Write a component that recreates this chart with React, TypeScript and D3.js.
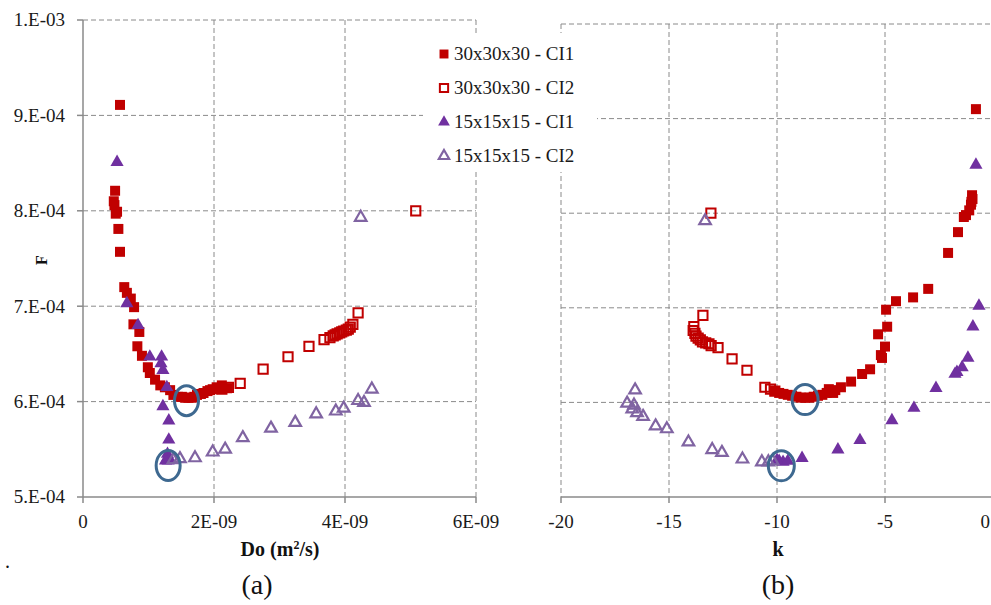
import React from "react";
import * as d3 from "d3";

// ---------- DATA (x, F) ----------
// Panel (a): Do (m2/s) vs F
const a30CI1: [number, number][] = [
  [0.565e-9, 9.11e-4], [0.49e-9, 8.21e-4], [0.47e-9, 8.1e-4], [0.48e-9, 8.06e-4], [0.52e-9, 7.99e-4],
  [0.5e-9, 7.97e-4], [0.54e-9, 7.81e-4], [0.565e-9, 7.57e-4], [0.63e-9, 7.2e-4], [0.67e-9, 7.14e-4],
  [0.73e-9, 7.08e-4], [0.78e-9, 6.99e-4], [0.77e-9, 6.81e-4], [0.86e-9, 6.73e-4], [0.83e-9, 6.58e-4],
  [0.9e-9, 6.48e-4], [0.99e-9, 6.36e-4], [1.02e-9, 6.3e-4], [1.1e-9, 6.23e-4], [1.18e-9, 6.17e-4],
  [1.25e-9, 6.15e-4], [1.33e-9, 6.12e-4], [1.38e-9, 6.07e-4], [1.45e-9, 6.05e-4], [1.51e-9, 6.05e-4],
  [1.56e-9, 6.04e-4], [1.61e-9, 6.04e-4], [1.66e-9, 6.04e-4], [1.7e-9, 6.05e-4], [1.74e-9, 6.07e-4],
  [1.8e-9, 6.08e-4], [1.84e-9, 6.09e-4], [1.9e-9, 6.11e-4], [1.94e-9, 6.12e-4], [1.98e-9, 6.13e-4],
  [2.04e-9, 6.15e-4], [2.08e-9, 6.14e-4], [2.12e-9, 6.17e-4], [2.2e-9, 6.14e-4],
];
const a30CI2: [number, number][] = [
  [5.08e-9, 8.0e-4], [4.2e-9, 6.93e-4], [4.12e-9, 6.81e-4], [4.08e-9, 6.78e-4], [4.05e-9, 6.76e-4],
  [4.02e-9, 6.75e-4], [3.98e-9, 6.74e-4], [3.95e-9, 6.73e-4], [3.92e-9, 6.72e-4], [3.88e-9, 6.71e-4],
  [3.85e-9, 6.7e-4], [3.82e-9, 6.69e-4], [3.77e-9, 6.67e-4], [3.68e-9, 6.65e-4], [3.45e-9, 6.58e-4],
  [3.13e-9, 6.47e-4], [2.75e-9, 6.34e-4], [2.4e-9, 6.19e-4], [2.22e-9, 6.15e-4], [2.12e-9, 6.13e-4],
];
const a15CI1: [number, number][] = [
  [0.52e-9, 8.51e-4], [0.67e-9, 7.03e-4], [0.84e-9, 6.8e-4], [1.02e-9, 6.47e-4], [1.2e-9, 6.47e-4],
  [1.19e-9, 6.4e-4], [1.22e-9, 6.33e-4], [1.28e-9, 6.15e-4], [1.22e-9, 5.95e-4], [1.31e-9, 5.8e-4],
  [1.31e-9, 5.6e-4], [1.29e-9, 5.45e-4], [1.28e-9, 5.4e-4], [1.3e-9, 5.38e-4], [1.33e-9, 5.39e-4],
  [1.26e-9, 5.38e-4],
];
const a15CI2: [number, number][] = [
  [4.24e-9, 7.93e-4], [4.41e-9, 6.13e-4], [4.29e-9, 5.99e-4], [4.2e-9, 6.01e-4], [3.98e-9, 5.93e-4],
  [3.86e-9, 5.9e-4], [3.56e-9, 5.87e-4], [3.24e-9, 5.78e-4], [2.87e-9, 5.72e-4], [2.44e-9, 5.62e-4],
  [2.17e-9, 5.5e-4], [1.98e-9, 5.47e-4], [1.71e-9, 5.41e-4], [1.48e-9, 5.4e-4], [1.38e-9, 5.39e-4],
];
const aOptima: [number, number][] = [[1.58e-9, 6.01e-4], [1.3e-9, 5.33e-4]];

// Panel (b): k vs F
const b30CI1: [number, number][] = [
  [-0.79, 9.1e-4], [-0.97, 8.19e-4], [-0.95, 8.15e-4], [-1.0, 8.12e-4], [-1.02, 8.09e-4],
  [-1.1, 8.03e-4], [-1.25, 7.98e-4], [-1.35, 7.96e-4], [-1.62, 7.8e-4], [-2.08, 7.58e-4],
  [-3.0, 7.2e-4], [-3.7, 7.11e-4], [-4.49, 7.07e-4], [-4.95, 6.98e-4], [-4.9, 6.8e-4],
  [-5.32, 6.72e-4], [-5.0, 6.59e-4], [-5.19, 6.5e-4], [-5.14, 6.47e-4], [-5.69, 6.35e-4],
  [-6.06, 6.3e-4], [-6.57, 6.22e-4], [-7.04, 6.16e-4], [-7.3, 6.13e-4], [-7.5, 6.12e-4],
  [-7.7, 6.1e-4], [-7.9, 6.08e-4], [-8.1, 6.07e-4], [-8.3, 6.06e-4], [-8.5, 6.05e-4],
  [-8.7, 6.05e-4], [-8.9, 6.05e-4], [-9.1, 6.06e-4], [-9.3, 6.07e-4], [-9.5, 6.08e-4],
  [-9.7, 6.09e-4], [-9.9, 6.1e-4], [-10.1, 6.12e-4], [-7.6, 6.14e-4], [-7.4, 6.1e-4],
];
const b30CI2: [number, number][] = [
  [-13.06, 8.0e-4], [-13.43, 6.92e-4], [-13.85, 6.8e-4], [-13.88, 6.76e-4], [-13.8, 6.73e-4],
  [-13.75, 6.7e-4], [-13.65, 6.68e-4], [-13.55, 6.66e-4], [-13.45, 6.64e-4], [-13.3, 6.63e-4],
  [-13.15, 6.62e-4], [-13.05, 6.6e-4], [-12.73, 6.58e-4], [-12.08, 6.46e-4], [-11.39, 6.34e-4],
  [-10.56, 6.16e-4], [-10.3, 6.14e-4], [-10.1, 6.12e-4],
];
const b15CI1: [number, number][] = [
  [-0.79, 8.51e-4], [-0.65, 7.02e-4], [-0.93, 6.8e-4], [-1.16, 6.47e-4], [-1.43, 6.37e-4],
  [-1.67, 6.32e-4], [-1.76, 6.3e-4], [-2.64, 6.15e-4], [-3.66, 5.94e-4], [-4.68, 5.81e-4],
  [-6.16, 5.6e-4], [-7.18, 5.5e-4], [-8.84, 5.41e-4], [-9.72, 5.37e-4], [-9.9, 5.38e-4],
  [-10.0, 5.39e-4], [-9.5, 5.38e-4],
];
const b15CI2: [number, number][] = [
  [-13.33, 7.92e-4], [-16.57, 6.13e-4], [-16.94, 5.99e-4], [-16.62, 5.97e-4], [-16.48, 5.89e-4],
  [-16.7, 5.93e-4], [-16.2, 5.85e-4], [-15.62, 5.75e-4], [-15.1, 5.72e-4], [-14.1, 5.58e-4],
  [-13.0, 5.5e-4], [-12.55, 5.47e-4], [-11.6, 5.4e-4], [-10.7, 5.37e-4], [-10.4, 5.37e-4],
  [-10.2, 5.38e-4],
];
const bOptima: [number, number][] = [[-8.7, 6.03e-4], [-9.8, 5.33e-4]];

const yTicks = [5e-4, 6e-4, 7e-4, 8e-4, 9e-4, 1e-3];
const yTickLabels = ["5.E-04", "6.E-04", "7.E-04", "8.E-04", "9.E-04", "1.E-03"];
const aXTicks = [0, 2e-9, 4e-9, 6e-9];
const aXTickLabels = ["0", "2E-09", "4E-09", "6E-09"];
const bXTicks = [-20, -15, -10, -5, 0];
const bXTickLabels = ["-20", "-15", "-10", "-5", "0"];
const legendLabels = ["30x30x30 - CI1", "30x30x30 - CI2", "15x15x15 - CI1", "15x15x15 - CI2"];

// ---------- STYLE ----------
const RED = "#C00000";
const PURPLE = "#7030A0";
const LPURPLE = "#8064A2";
const RING = "#3E6990";
const GRID = "#8a8a8a";
const FONT = "Liberation Serif, Times New Roman, serif";

const sq = d3.symbol().type(d3.symbolSquare);
const tri = d3.symbol().type(d3.symbolTriangle);

type Kind = "fsq" | "osq" | "ftri" | "otri";
function Marker({ kind, x, y, s = 1 }: { kind: Kind; x: number; y: number; s?: number }) {
  if (kind === "fsq") return <path d={sq.size(100 * s)() as string} transform={`translate(${x},${y})`} fill={RED} />;
  if (kind === "osq")
    return <path d={sq.size(85 * s)() as string} transform={`translate(${x},${y})`} fill="none" stroke={RED} strokeWidth={2} />;
  if (kind === "ftri") return <path d={tri.size(75 * s)() as string} transform={`translate(${x},${y})`} fill={PURPLE} />;
  return <path d={tri.size(58 * s)() as string} transform={`translate(${x},${y})`} fill="none" stroke={LPURPLE} strokeWidth={2.2} />;
}

export default function App() {
  const ax = d3.scaleLinear().domain([0, 6e-9]).range([83, 476]);
  const ay = d3.scaleLinear().domain([5e-4, 1e-3]).range([497, 20]);
  const bx = d3.scaleLinear().domain([-20, 0]).range([561, 993]);
  const by = d3.scaleLinear().domain([5e-4, 1e-3]).range([497, 24]);

  const series = (data: [number, number][], kind: Kind, sx: any, sy: any, key: string) =>
    data.map((d, i) => <Marker key={key + i} kind={kind} x={sx(d[0])} y={sy(d[1])} />);

  return (
    <svg width={991} height={605} style={{ position: "absolute", left: 0, top: 0, background: "#fff", fontFamily: FONT }}>
      <rect x={0} y={0} width={991} height={605} fill="#fff" />
      {/* Panel (a) grid */}
      {yTicks.slice(1).map((t) => (
        <line key={"ag" + t} x1={ax(0)} x2={ax(6e-9)} y1={ay(t)} y2={ay(t)} stroke={GRID} strokeDasharray="5,3" />
      ))}
      {aXTicks.slice(1).map((t) => (
        <line key={"agv" + t} x1={ax(t)} x2={ax(t)} y1={ay(1e-3)} y2={ay(5e-4)} stroke={GRID} strokeDasharray="5,3" />
      ))}
      <line x1={ax(0)} x2={ax(0)} y1={ay(1e-3)} y2={ay(5e-4)} stroke={GRID} strokeWidth={1.5} />
      <line x1={ax(0)} x2={ax(6e-9)} y1={ay(5e-4)} y2={ay(5e-4)} stroke={GRID} strokeWidth={1.5} />
      {yTicks.map((t) => (
        <line key={"ayt" + t} x1={ax(0) - 6} x2={ax(0)} y1={ay(t)} y2={ay(t)} stroke={GRID} strokeWidth={1.5} />
      ))}
      {aXTicks.map((t) => (
        <line key={"axt" + t} x1={ax(t)} x2={ax(t)} y1={ay(5e-4)} y2={ay(5e-4) + 6} stroke={GRID} strokeWidth={1.5} />
      ))}
      {yTicks.map((t, i) => (
        <text key={"ayl" + t} x={65} y={ay(t)} dy="0.34em" textAnchor="end" fontSize={19} fill="#1a1a1a">
          {yTickLabels[i]}
        </text>
      ))}
      {aXTicks.map((t, i) => (
        <text key={"axl" + t} x={ax(t)} y={528} textAnchor="middle" fontSize={19} fill="#1a1a1a">
          {aXTickLabels[i]}
        </text>
      ))}
      <text x={280} y={556} textAnchor="middle" fontSize={20} fontWeight="bold" fill="#111">
        Do (m<tspan dy={-7} fontSize={12}>2</tspan>
        <tspan dy={7}>/s)</tspan>
      </text>
      <text transform="translate(47,260) rotate(-90)" textAnchor="middle" fontSize={16} fontWeight="bold" fill="#111">
        F
      </text>

      {/* Panel (b) grid */}
      {yTicks.slice(1).map((t) => (
        <line key={"bg" + t} x1={bx(-20)} x2={991} y1={by(t)} y2={by(t)} stroke={GRID} strokeDasharray="5,3" />
      ))}
      {bXTicks.slice(0, 4).map((t) => (
        <line key={"bgv" + t} x1={bx(t)} x2={bx(t)} y1={by(1e-3)} y2={by(5e-4)} stroke={GRID} strokeDasharray="5,3" />
      ))}
      <line x1={bx(-20)} x2={991} y1={by(5e-4)} y2={by(5e-4)} stroke={GRID} strokeWidth={1.5} />
      {bXTicks.map((t) => (
        <line key={"bxt" + t} x1={bx(t)} x2={bx(t)} y1={by(5e-4)} y2={by(5e-4) + 6} stroke={GRID} strokeWidth={1.5} />
      ))}
      {bXTicks.map((t, i) => (
        <text
          key={"bxl" + t}
          x={t === 0 ? 990 : bx(t)}
          y={528}
          textAnchor={t === 0 ? "end" : "middle"}
          fontSize={19}
          fill="#1a1a1a"
        >
          {bXTickLabels[i]}
        </text>
      ))}
      <text x={778} y={556} textAnchor="middle" fontSize={20} fontWeight="bold" fill="#111">
        k
      </text>

      {/* Legend */}
      <rect x={423} y={33} width={174} height={139} fill="#fff" />
      {legendLabels.map((l, i) => {
        const ly = 54 + i * 34;
        const kinds: Kind[] = ["fsq", "osq", "ftri", "otri"];
        return (
          <g key={l}>
            <Marker kind={kinds[i]} x={444} y={ly} s={0.8} />
            <text x={454} y={ly} dy="0.34em" fontSize={19} fill="#1a1a1a">
              {l}
            </text>
          </g>
        );
      })}

      {/* Points */}
      {series(a30CI1, "fsq", ax, ay, "a1")}
      {series(a30CI2, "osq", ax, ay, "a2")}
      {series(a15CI1, "ftri", ax, ay, "a3")}
      {series(a15CI2, "otri", ax, ay, "a4")}
      {series(b30CI1, "fsq", bx, by, "b1")}
      {series(b30CI2, "osq", bx, by, "b2")}
      {series(b15CI1, "ftri", bx, by, "b3")}
      {series(b15CI2, "otri", bx, by, "b4")}

      {/* Optimum rings */}
      {aOptima.map((d, i) => (
        <ellipse key={"ao" + i} cx={ax(d[0])} cy={ay(d[1])} rx={12} ry={15} fill="none" stroke={RING} strokeWidth={3} />
      ))}
      {bOptima.map((d, i) => (
        <ellipse key={"bo" + i} cx={bx(d[0])} cy={by(d[1])} rx={13} ry={15} fill="none" stroke={RING} strokeWidth={3} />
      ))}

      {/* Captions */}
      <text x={5} y={568} fontSize={20} fill="#111">.</text>
      <text x={257} y={594} textAnchor="middle" fontSize={28} fill="#111">(a)</text>
      <text x={778} y={594} textAnchor="middle" fontSize={28} fill="#111">(b)</text>
    </svg>
  );
}
